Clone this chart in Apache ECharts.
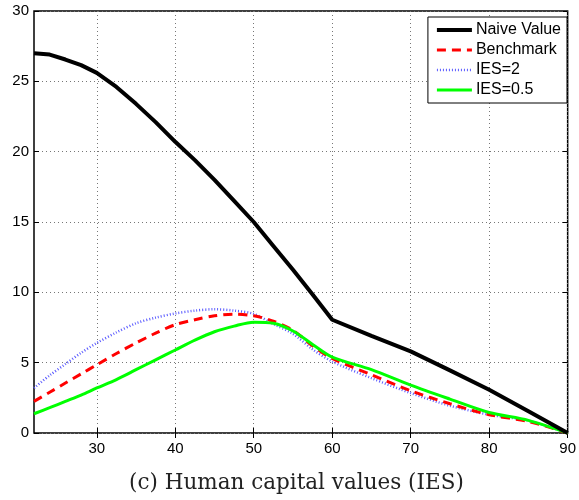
<!DOCTYPE html>
<html>
<head>
<meta charset="utf-8">
<script src="https://cdn.jsdelivr.net/npm/echarts@6/dist/echarts.min.js"></script>
<style>
  html, body { margin: 0; padding: 0; background: #fff; }
  #main { width: 579px; height: 500px; }
</style>
</head>
<body>
<div id="main"></div>
<script>
// 年龄 (x 轴)
var ages = [22, 24, 26, 28, 30, 32.5, 35, 37.5, 40, 42.5, 45, 47.5, 50, 52.5, 55, 57.5, 60, 65, 70, 75, 80, 85, 90];
// 各条曲线
var naiveValue = [27.0, 26.9, 26.55, 26.15, 25.6, 24.6, 23.4, 22.1, 20.7, 19.4, 18.0, 16.5, 15.0, 13.3, 11.6, 9.85, 8.05, 6.9, 5.8, 4.45, 3.08, 1.55, 0];
var benchmark = [2.25, 2.9, 3.55, 4.2, 4.85, 5.65, 6.4, 7.1, 7.7, 8.05, 8.33, 8.45, 8.33, 7.95, 7.3, 6.2, 5.3, 4.14, 3.0, 2.08, 1.3, 0.82, 0];
var ies2 = [3.2, 4.1, 4.9, 5.7, 6.4, 7.15, 7.8, 8.2, 8.5, 8.7, 8.8, 8.7, 8.47, 7.75, 7.05, 5.95, 5.08, 3.9, 2.84, 1.94, 1.3, 0.87, 0];
var ies05 = [1.37, 1.8, 2.25, 2.7, 3.2, 3.8, 4.5, 5.2, 5.9, 6.6, 7.2, 7.6, 7.88, 7.8, 7.25, 6.3, 5.4, 4.5, 3.4, 2.41, 1.46, 0.9, 0];
// 刻度
var xTicks = [30, 40, 50, 60, 70, 80, 90];
var seriesNames = ['Naive Value', 'Benchmark', 'IES=2', 'IES=0.5'];
var caption = '(c) Human capital values (IES)';

function pairs(ys) {
	return ages.map(function (a, i) { return [a, ys[i]]; });
}

var chart = echarts.init(document.getElementById('main'), null, { renderer: 'canvas' });

var font = 'Liberation Sans, Arial, sans-serif';
var gridLine = { show: true, lineStyle: { color: '#777', type: [1, 3], width: 1 } };
var tickStyle = { inside: true, length: 5, lineStyle: { color: '#000' } };

chart.setOption({
	animation: false,
	backgroundColor: '#fff',
	title: {
		text: caption,
		left: 129,
		top: 472,
		padding: 0,
		textStyle: { fontFamily: 'DejaVu Serif, serif', fontWeight: 'normal', fontSize: 21.5, color: '#222' }
	},
	grid: { left: 34, right: 9, top: 11, bottom: 67, show: true, borderColor: '#000', borderWidth: 1.5 },
	legend: {
		data: seriesNames,
		orient: 'vertical',
		right: 12,
		top: 17,
		itemWidth: 35,
		itemHeight: 12,
		itemGap: 0,
		padding: [3, 6, 3, 7],
		backgroundColor: '#fff',
		borderColor: '#000',
		borderWidth: 1,
		itemStyle: { opacity: 0 },
		lineStyle: { width: 'inherit' },
		textStyle: { fontFamily: font, fontSize: 16, lineHeight: 20, color: '#000', padding: [0, 0, 0, -1] }
	},
	xAxis: [{
		type: 'value',
		min: 22,
		max: 90,
		axisLine: { show: false },
		axisTick: Object.assign({ customValues: xTicks }, tickStyle),
		axisLabel: { customValues: xTicks, fontFamily: font, fontSize: 15, color: '#000', margin: 8 },
		splitLine: gridLine
	}, {
		type: 'value',
		position: 'top',
		min: 22,
		max: 90,
		axisLine: { show: false },
		axisTick: Object.assign({ customValues: xTicks }, tickStyle),
		axisLabel: { show: false, customValues: xTicks },
		splitLine: { show: false }
	}],
	yAxis: [{
		type: 'value',
		min: 0,
		max: 30,
		interval: 5,
		axisLine: { show: false },
		axisTick: Object.assign({ show: true }, tickStyle),
		axisLabel: { fontFamily: font, fontSize: 15, color: '#000', margin: 5 },
		splitLine: gridLine
	}, {
		type: 'value',
		position: 'right',
		min: 0,
		max: 30,
		interval: 5,
		axisLine: { show: false },
		axisTick: Object.assign({ show: true }, tickStyle),
		axisLabel: { show: false },
		splitLine: { show: false }
	}],
	series: [{
		name: seriesNames[0],
		type: 'line',
		data: pairs(naiveValue),
		symbol: 'none',
		smooth: false,
		z: 5,
		lineStyle: { color: '#000', width: 4 },
		itemStyle: { color: '#000' }
	}, {
		name: seriesNames[1],
		type: 'line',
		data: pairs(benchmark),
		symbol: 'none',
		smooth: 0.3,
		z: 3,
		lineStyle: { color: '#ff0000', width: 3, type: [9, 6] },
		itemStyle: { color: '#ff0000' }
	}, {
		name: seriesNames[2],
		type: 'line',
		data: pairs(ies2),
		symbol: 'none',
		smooth: 0.3,
		z: 2,
		lineStyle: { color: '#5a5aff', width: 2.5, type: [1, 2] },
		itemStyle: { color: '#5a5aff' }
	}, {
		name: seriesNames[3],
		type: 'line',
		data: pairs(ies05),
		symbol: 'none',
		smooth: 0.3,
		z: 4,
		lineStyle: { color: '#00ff00', width: 3 },
		itemStyle: { color: '#00ff00' }
	}]
});
</script>
</body>
</html>
